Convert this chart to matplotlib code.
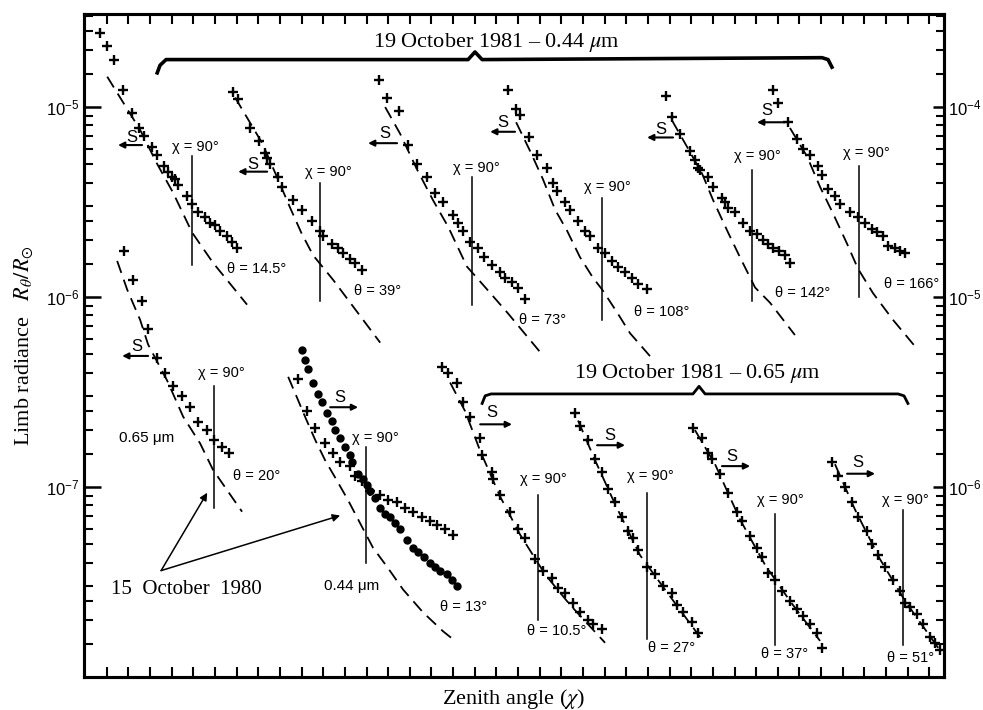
import numpy as np
import matplotlib
matplotlib.use('Agg')
import matplotlib.pyplot as plt
from matplotlib.ticker import FixedLocator, LogLocator, NullFormatter, LogFormatterSciNotation

SANS = ['Liberation Sans', 'DejaVu Sans']
SERIF = ['Liberation Serif', 'DejaVu Serif']
plt.rcParams['font.family'] = SANS

# Every scan shares one frame: x is the zenith angle in tick spacings
# (the scans are shifted sideways), y is log10(R_theta / R_sun) on the
# left-hand scale.

# 19 October 1981 - 0.44 um, one scan per azimuth theta
top_theta = ['14.5', '39', '73', '108', '142', '166']
top_obs_x = [
    [0.69, 1.02, 1.34, 1.76, 2.17, 2.49, 2.73, 3.09, 3.33, 3.65, 3.83, 4.02,
     4.16, 4.30, 4.71, 4.94, 5.22, 5.54, 5.77, 6.00, 6.24, 6.56, 6.79, 7.02],
    [6.84, 7.07, 7.62, 8.04, 8.31, 8.41, 8.55, 8.91, 9.10, 9.61, 10.02, 10.48,
     10.85, 10.99, 11.41, 11.69, 11.92, 12.24, 12.47, 12.79],
    [13.58, 13.95, 14.50, 14.92, 15.34, 15.80, 16.17, 16.54, 17.00, 17.23,
     17.46, 17.78, 18.15, 18.43, 18.80, 19.17, 19.40, 19.72, 20.00, 20.32],
    [19.54, 19.91, 20.09, 20.51, 20.88, 21.34, 21.62, 21.80, 22.17, 22.40, 22.77,
     23.10, 23.33, 23.70, 24.02, 24.34, 24.62, 24.94, 25.27, 25.54, 25.96],
    [26.84, 27.11, 27.48, 27.94, 28.18, 28.31, 28.41, 28.78, 29.01, 29.42, 29.56,
     29.70, 30.02, 30.39, 30.72, 31.04, 31.32, 31.55, 31.78, 32.06, 32.33, 32.56],
    [31.78, 32.01, 32.47, 32.89, 33.16, 33.49, 33.86, 34.04, 34.32, 34.64, 34.87,
     35.33, 35.70, 36.03, 36.35, 36.58, 36.86, 37.09, 37.41, 37.64, 37.88],
]
top_obs_y = [
    [-4.61, -4.68, -4.75, -4.91, -5.03, -5.11, -5.15, -5.21, -5.25, -5.31, -5.34, -5.37,
     -5.38, -5.41, -5.47, -5.51, -5.55, -5.58, -5.61, -5.62, -5.65, -5.68, -5.71, -5.74],
    [-4.92, -4.96, -5.11, -5.18, -5.24, -5.27, -5.30, -5.37, -5.42, -5.49, -5.54, -5.60,
     -5.65, -5.68, -5.72, -5.74, -5.77, -5.80, -5.82, -5.86],
    [-4.86, -4.95, -5.02, -5.20, -5.30, -5.37, -5.45, -5.50, -5.57, -5.61,
     -5.65, -5.71, -5.74, -5.79, -5.83, -5.87, -5.90, -5.92, -5.95, -6.01],
    [-4.91, -5.01, -5.04, -5.16, -5.25, -5.32, -5.40, -5.44, -5.50, -5.54, -5.60,
     -5.65, -5.68, -5.74, -5.77, -5.81, -5.84, -5.87, -5.90, -5.93, -5.96],
    [-4.94, -5.05, -5.14, -5.23, -5.28, -5.32, -5.33, -5.37, -5.42, -5.48, -5.50,
     -5.53, -5.55, -5.61, -5.65, -5.67, -5.70, -5.72, -5.74, -5.76, -5.78, -5.82],
    [-4.91, -4.98, -5.08, -5.17, -5.22, -5.25, -5.31, -5.36, -5.43, -5.47, -5.51,
     -5.55, -5.58, -5.61, -5.64, -5.66, -5.68, -5.73, -5.74, -5.76, -5.77],
]
top_model_x = [
    [1.02, 2.54, 3.33, 4.06, 4.94, 5.91, 6.84, 7.48],
    [6.93, 8.18, 8.87, 9.47, 9.98, 10.53, 11.46, 12.38, 13.63],
    [13.86, 14.55, 15.34, 16.07, 16.77, 17.64, 18.57, 19.49, 21.02],
    [19.91, 20.55, 21.15, 21.71, 22.26, 22.86, 23.47, 23.88, 24.57, 25.17, 26.24],
    [27.11, 27.81, 28.50, 29.01, 29.70, 30.25, 30.95, 31.64, 32.79],
    [32.56, 33.35, 33.95, 34.55, 35.20, 35.70, 36.40, 37.32, 38.34],
]
top_model_y = [
    [-4.84, -5.12, -5.30, -5.45, -5.66, -5.82, -5.95, -6.04],
    [-4.95, -5.19, -5.37, -5.53, -5.66, -5.78, -5.91, -6.05, -6.24],
    [-5.00, -5.14, -5.33, -5.49, -5.63, -5.84, -5.96, -6.08, -6.29],
    [-5.08, -5.23, -5.38, -5.54, -5.65, -5.79, -5.90, -5.96, -6.08, -6.19, -6.33],
    [-5.07, -5.21, -5.35, -5.49, -5.66, -5.79, -5.95, -6.03, -6.20],
    [-5.11, -5.26, -5.42, -5.56, -5.72, -5.85, -5.98, -6.12, -6.26],
]
top_chi90_x = [4.94, 10.85, 17.87, 23.88, 30.81, 35.75]
top_chi90_y = [(-5.26, -5.83), (-5.40, -6.02), (-5.37, -6.04),
               (-5.48, -6.12), (-5.33, -6.02), (-5.31, -6.00)]

# 15 October 1980: 0.65 um (theta = 20) and 0.44 um (theta = 13)
oct80_red_x = [1.80, 2.22, 2.63, 2.91, 3.33, 3.70, 4.06, 4.48, 4.85, 5.22, 5.64, 5.96, 6.33, 6.65]
oct80_red_y = [-5.76, -5.91, -6.02, -6.17, -6.32, -6.40, -6.47, -6.52, -6.58, -6.66,
               -6.70, -6.75, -6.79, -6.82]
oct80_red_model_x = [1.48, 1.94, 2.54, 2.91, 3.79, 4.53, 5.31, 5.91, 7.25]
oct80_red_model_y = [-5.81, -5.96, -6.12, -6.25, -6.44, -6.63, -6.77, -6.91, -7.13]
oct80_red_chi90 = (5.96, -6.47, -7.11)

oct80_blue_x = [9.84, 10.25, 10.62, 11.09, 11.46, 11.78, 12.24, 12.47, 12.79, 13.16,
                13.63, 14.00, 14.41, 14.78, 15.15, 15.57, 15.94, 16.26, 16.63, 17.00]
oct80_blue_y = [-6.43, -6.60, -6.69, -6.77, -6.82, -6.87, -6.89, -6.94, -6.97, -7.02,
                -7.04, -7.07, -7.08, -7.11, -7.13, -7.16, -7.18, -7.20, -7.22, -7.25]
oct80_dots_x = [10.02, 10.16, 10.30, 10.53, 10.76, 10.95, 11.18, 11.41, 11.55, 11.78,
                12.01, 12.24, 12.33, 12.61, 12.84, 13.03, 13.16, 13.40, 13.63, 13.86,
                14.09, 14.32, 14.55, 14.87, 15.15, 15.38, 15.66, 15.94, 16.17, 16.40,
                16.72, 16.95, 17.18]
oct80_dots_y = [-6.28, -6.33, -6.38, -6.45, -6.51, -6.55, -6.61, -6.65, -6.70, -6.74,
                -6.79, -6.83, -6.87, -6.93, -6.96, -6.99, -7.02, -7.06, -7.11, -7.14,
                -7.16, -7.19, -7.22, -7.28, -7.32, -7.34, -7.37, -7.40, -7.42, -7.44,
                -7.46, -7.49, -7.52]
oct80_blue_model_x = [9.38, 9.79, 10.16, 10.62, 11.09, 11.55, 12.15, 12.70, 13.30,
                      13.95, 14.69, 15.61, 16.54, 17.09]
oct80_blue_model_y = [-6.42, -6.53, -6.63, -6.75, -6.86, -6.95, -7.07, -7.19, -7.32,
                      -7.42, -7.54, -7.66, -7.76, -7.81]
oct80_blue_chi90 = (12.98, -6.79, -7.40)

# 19 October 1981 - 0.65 um
red_theta = ['10.5', '27', '37', '51']
red_obs_x = [
    [16.49, 16.77, 17.18, 17.46, 17.78, 18.25, 18.34, 18.80, 18.85, 19.17, 19.63, 20.00,
     20.32, 20.79, 21.15, 21.57, 21.85, 22.17, 22.54, 22.86, 23.23, 23.47, 23.88],
    [22.63, 22.86, 23.23, 23.56, 23.88, 24.16, 24.48, 24.80, 25.08, 25.31, 25.54, 25.96,
     26.33, 26.70, 27.11, 27.34, 27.62, 28.04, 28.31],
    [28.08, 28.50, 28.78, 28.96, 29.33, 29.70, 30.12, 30.35, 30.72, 31.04, 31.27, 31.55,
     31.87, 32.19, 32.56, 32.89, 33.16, 33.49, 33.81, 34.04],
    [34.50, 34.78, 35.10, 35.43, 35.70, 36.12, 36.35, 36.63, 36.95, 37.32, 37.64, 37.88,
     38.11, 38.43, 38.71, 39.03, 39.26, 39.49],
]
red_obs_y = [
    [-6.37, -6.40, -6.45, -6.55, -6.63, -6.74, -6.83, -6.92, -6.96, -7.04, -7.13, -7.22,
     -7.27, -7.38, -7.44, -7.48, -7.53, -7.56, -7.61, -7.66, -7.70, -7.72, -7.75],
    [-6.61, -6.68, -6.75, -6.85, -6.92, -7.01, -7.08, -7.16, -7.23, -7.27, -7.33, -7.42,
     -7.46, -7.52, -7.56, -7.62, -7.66, -7.71, -7.77],
    [-6.69, -6.74, -6.82, -6.85, -6.93, -7.03, -7.13, -7.18, -7.26, -7.32, -7.37, -7.45,
     -7.49, -7.55, -7.60, -7.64, -7.68, -7.72, -7.77, -7.85],
    [-6.87, -6.94, -7.00, -7.08, -7.16, -7.23, -7.30, -7.36, -7.42, -7.49, -7.55, -7.61,
     -7.63, -7.67, -7.72, -7.79, -7.82, -7.86],
]
red_model_x = [
    [16.86, 17.55, 18.25, 19.17, 20.09, 21.25, 22.40, 24.02],
    [22.77, 23.56, 24.48, 25.64, 26.79, 28.41],
    [28.17, 29.10, 30.25, 31.41, 32.56, 33.95],
    [34.64, 35.57, 36.72, 37.88, 39.49],
]
red_model_y = [
    [-6.45, -6.60, -6.81, -7.05, -7.25, -7.46, -7.62, -7.82],
    [-6.65, -6.86, -7.09, -7.36, -7.54, -7.79],
    [-6.70, -6.88, -7.17, -7.41, -7.60, -7.81],
    [-6.88, -7.12, -7.38, -7.60, -7.86],
]
red_chi90_x = [20.92, 25.96, 31.87, 37.78]
red_chi90_y = [(-7.04, -7.70), (-7.03, -7.80), (-7.14, -7.83), (-7.12, -7.83)]

# label placement (x, log10 y): chi label, theta label, "S" letter, arrow (tail, head, y)
top_layout = [
    ((5.08, -5.21), (7.90, -5.85), (2.17, -5.16), (2.63, 1.52, -5.20)),
    ((11.22, -5.34), (13.49, -5.97), (7.76, -5.30), (8.41, 7.07, -5.34)),
    ((18.06, -5.32), (21.15, -6.12), (13.86, -5.14), (14.41, 13.07, -5.19)),
    ((24.11, -5.42), (26.65, -6.08), (19.31, -5.08), (19.86, 18.71, -5.13)),
    ((31.04, -5.26), (33.16, -5.98), (26.61, -5.12), (27.16, 25.96, -5.16)),
    ((36.07, -5.24), (38.20, -5.93), (31.50, -5.02), (32.33, 31.04, -5.08)),
]
red_layout = [
    ((21.15, -6.96), (21.80, -7.76), (18.80, -6.61), (18.25, 19.72, -6.67)),
    ((26.10, -6.94), (27.07, -7.85), (24.25, -6.73), (23.65, 24.94, -6.78)),
    ((32.10, -7.07), (32.33, -7.88), (29.89, -6.84), (29.42, 30.72, -6.89)),
    ((37.88, -7.07), (38.11, -7.90), (35.70, -6.87), (35.20, 36.49, -6.93)),
]
oct80_layout = [
    ((6.28, -6.40), (7.94, -6.94), (2.40, -6.26), (2.91, 1.71, -6.31), '20'),
    ((13.40, -6.74), (17.46, -7.63), (11.78, -6.53), (11.32, 12.61, -6.58), '13'),
]


def R(v):
    return 10.0 ** np.asarray(v)


fig = plt.figure(figsize=(9.83, 7.10), dpi=100)
ax = fig.add_axes([0.0855, 0.0465, 0.8749, 0.9338])

cross = dict(ls='none', marker='+', ms=6.5, mew=1.7, color='k')
dashed = dict(color='k', lw=1.3, dashes=(7, 4))
small = dict(fontfamily=SANS, fontsize=10.5, ha='center', va='center')


def draw_scan(x, y, mx, my, cx, cy):
    ax.plot(mx, R(my), **dashed)
    ax.plot(x, R(y), **cross)
    ax.plot([cx, cx], R(cy), color='k', lw=1.1)


def label_scan(chi_xy, theta_xy, theta, s_xy, arrow):
    ax.text(chi_xy[0], R(chi_xy[1]), 'χ = 90°', **small)
    ax.text(theta_xy[0], R(theta_xy[1]), 'θ = ' + theta + '°', **small)
    ax.text(s_xy[0], R(s_xy[1]), 'S', fontfamily=SANS, fontsize=12,
            ha='center', va='center')
    tail, head, ya = arrow
    ax.annotate('', xy=(head, R(ya)), xytext=(tail, R(ya)),
                arrowprops=dict(arrowstyle='-|>', color='k', lw=1.5,
                                mutation_scale=9, shrinkA=0, shrinkB=0))


for i in range(len(top_theta)):
    draw_scan(top_obs_x[i], top_obs_y[i], top_model_x[i], top_model_y[i],
              top_chi90_x[i], top_chi90_y[i])
    label_scan(*top_layout[i][:2], top_theta[i], *top_layout[i][2:])

for i in range(len(red_theta)):
    draw_scan(red_obs_x[i], red_obs_y[i], red_model_x[i], red_model_y[i],
              red_chi90_x[i], red_chi90_y[i])
    label_scan(*red_layout[i][:2], red_theta[i], *red_layout[i][2:])

# 15 October 1980
draw_scan(oct80_red_x, oct80_red_y, oct80_red_model_x, oct80_red_model_y,
          oct80_red_chi90[0], oct80_red_chi90[1:])
draw_scan(oct80_blue_x, oct80_blue_y, oct80_blue_model_x, oct80_blue_model_y,
          oct80_blue_chi90[0], oct80_blue_chi90[1:])
ax.plot(oct80_dots_x, R(oct80_dots_y), ls='none', marker='o', ms=5, color='k')
for chi_xy, theta_xy, s_xy, arrow, theta in oct80_layout:
    label_scan(chi_xy, theta_xy, theta, s_xy, arrow)

ax.text(2.86, R(-6.74), '0.65 μm', fontfamily=SANS, fontsize=11, ha='center', va='center')
ax.text(12.29, R(-7.52), '0.44 μm', fontfamily=SANS, fontsize=11, ha='center', va='center')
ax.text(4.67, R(-7.54), '15  October  1980', fontfamily=SERIF, fontsize=15,
        ha='center', va='center')
for target in [(5.64, -7.03), (11.78, -7.15)]:
    ax.annotate('', xy=(target[0], R(target[1])), xytext=(3.51, R(-7.44)),
                arrowprops=dict(arrowstyle='-|>', color='k', lw=1.1,
                                mutation_scale=11, shrinkA=0, shrinkB=0))

# group braces and titles
brace_top_x = [3.33, 3.46, 3.74, 17.69, 18.01, 18.34, 34.04, 34.32, 34.50]
brace_top_y = [-4.82, -4.78, -4.75, -4.75, -4.71, -4.75, -4.74, -4.75, -4.79]
brace_bot_x = [18.34, 18.48, 18.75, 28.08, 28.36, 28.64, 37.55, 37.83, 38.01]
brace_bot_y = [-6.56, -6.52, -6.51, -6.51, -6.47, -6.51, -6.51, -6.52, -6.56]
ax.plot(brace_top_x, R(brace_top_y), color='k', lw=2.6, solid_joinstyle='round')
ax.plot(brace_bot_x, R(brace_bot_y), color='k', lw=2.0, solid_joinstyle='round')
ax.text(18.98, R(-4.66), '19 October 1981 – 0.44 $\\mu$m', fontfamily=SERIF,
        math_fontfamily='stix', fontsize=16, ha='center', va='center')
ax.text(28.31, R(-6.40), '19 October 1981 – 0.65 $\\mu$m', fontfamily=SERIF,
        math_fontfamily='stix', fontsize=16, ha='center', va='center')

# axes
ax.set_xlim(-0.05, 39.68)
ax.set_yscale('log')
ax.set_ylim(1e-8, R(-4.51))
ax.xaxis.set_major_locator(FixedLocator(np.arange(1, 40)))
ax.tick_params(axis='x', which='major', direction='in', top=True, bottom=True,
               labelbottom=False, length=7, width=1.5)
ax.yaxis.set_major_locator(FixedLocator([1e-7, 1e-6, 1e-5]))
ax.yaxis.set_major_formatter(LogFormatterSciNotation())
ax.yaxis.set_minor_locator(LogLocator(base=10, subs=[1.5, 2, 2.5, 3, 4, 5, 6, 7, 8, 9], numticks=30))
ax.yaxis.set_minor_formatter(NullFormatter())
ax.tick_params(axis='y', which='major', direction='in', length=12, width=1.8,
               labelsize=12, pad=3)
ax.tick_params(axis='y', which='minor', direction='in', length=6.5, width=1.5)
for sp in ax.spines.values():
    sp.set_linewidth(2.2)

ax2 = ax.twinx()
ax2.set_yscale('log')
ax2.set_ylim(1e-7, R(-3.51))
ax2.yaxis.set_major_locator(FixedLocator([1e-6, 1e-5, 1e-4]))
ax2.yaxis.set_major_formatter(LogFormatterSciNotation())
ax2.yaxis.set_minor_locator(LogLocator(base=10, subs=[1.5, 2, 2.5, 3, 4, 5, 6, 7, 8, 9], numticks=30))
ax2.yaxis.set_minor_formatter(NullFormatter())
ax2.tick_params(axis='y', which='major', direction='in', length=8, width=1.8,
                labelsize=12, pad=3)
ax2.tick_params(axis='y', which='minor', direction='in', length=5.5, width=1.5)
for sp in ax2.spines.values():
    sp.set_linewidth(2.2)

ax.set_xlabel('Zenith angle ($\\chi$)', fontfamily=SERIF, math_fontfamily='stix',
              fontsize=16, labelpad=7)
ax.set_ylabel('Limb radiance   $R_{\\theta}/R_{\\odot}$', fontfamily=SERIF,
              math_fontfamily='stix', fontsize=16, labelpad=8)

fig.savefig('out.png', dpi=100)
